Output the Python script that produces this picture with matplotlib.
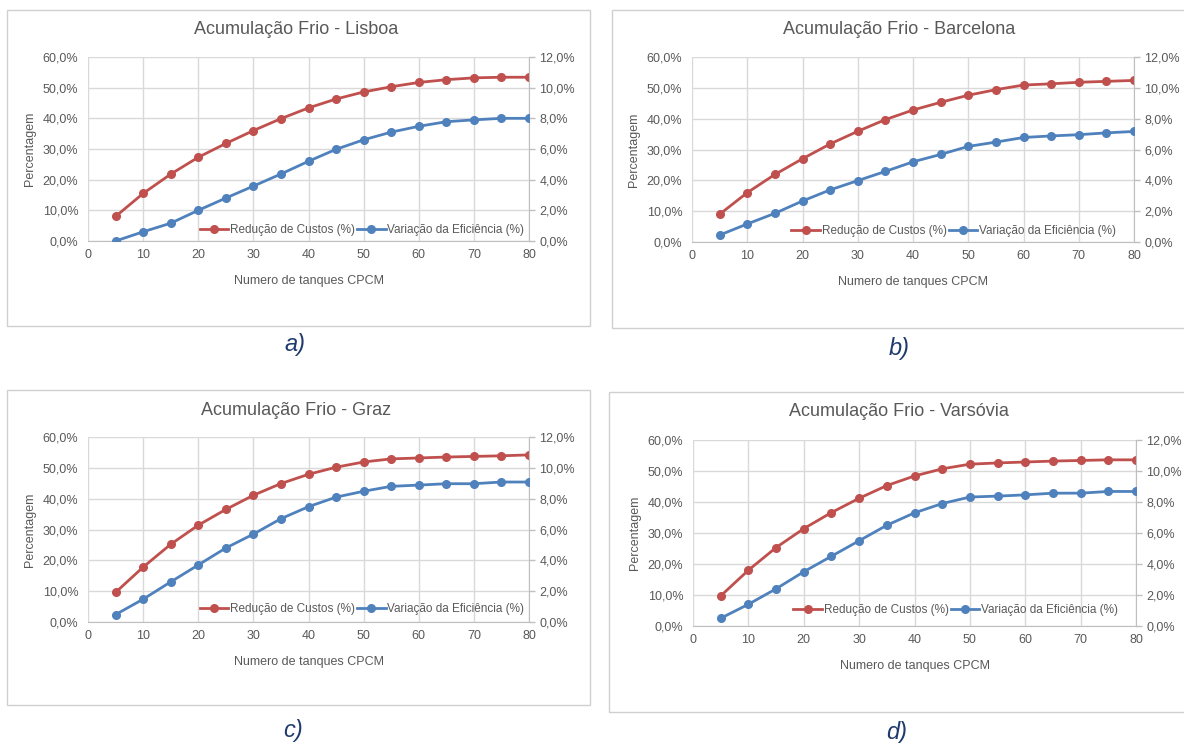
import matplotlib
matplotlib.use("Agg")
import matplotlib.pyplot as plt
from matplotlib.patches import Rectangle
from matplotlib.ticker import FuncFormatter, MultipleLocator

plt.rcParams['font.family'] = ['Liberation Sans', 'DejaVu Sans']

# Number of CPCM tanks
tanques = [5, 10, 15, 20, 25, 30, 35, 40, 45, 50, 55, 60, 65, 70, 75, 80]

# Cost reduction (%) - left axis
custos_lisboa = [8.0, 15.5, 21.8, 27.3, 31.8, 36.0, 39.9, 43.4, 46.3, 48.6, 50.3, 51.7, 52.6, 53.2, 53.4, 53.4]
custos_barcelona = [9.0, 16.0, 21.9, 27.0, 31.8, 35.9, 39.7, 42.8, 45.3, 47.6, 49.4, 50.9, 51.3, 51.8, 52.1, 52.4]
custos_graz = [9.6, 17.8, 25.2, 31.4, 36.5, 41.1, 44.9, 47.9, 50.2, 51.9, 52.9, 53.2, 53.5, 53.7, 53.9, 54.2]
custos_varsovia = [9.7, 18.0, 25.3, 31.4, 36.6, 41.2, 45.3, 48.4, 50.7, 52.2, 52.6, 52.9, 53.2, 53.4, 53.6, 53.6]

# Efficiency variation (%) - right axis
eficiencia_lisboa = [0.0, 0.6, 1.16, 2.0, 2.8, 3.58, 4.37, 5.2, 5.98, 6.6, 7.1, 7.48, 7.78, 7.9, 8.0, 8.0]
eficiencia_barcelona = [0.45, 1.17, 1.86, 2.66, 3.38, 3.98, 4.58, 5.2, 5.68, 6.2, 6.48, 6.78, 6.88, 6.96, 7.08, 7.17]
eficiencia_graz = [0.48, 1.48, 2.6, 3.7, 4.8, 5.7, 6.7, 7.48, 8.1, 8.48, 8.8, 8.88, 8.97, 8.97, 9.08, 9.08]
eficiencia_varsovia = [0.5, 1.4, 2.4, 3.5, 4.5, 5.5, 6.5, 7.3, 7.9, 8.32, 8.38, 8.46, 8.57, 8.57, 8.68, 8.68]

cidades = ["Lisboa", "Barcelona", "Graz", "Varsóvia"]
letras = ["a)", "b)", "c)", "d)"]
custos = [custos_lisboa, custos_barcelona, custos_graz, custos_varsovia]
eficiencias = [eficiencia_lisboa, eficiencia_barcelona, eficiencia_graz, eficiencia_varsovia]

RED = '#C0504D'
BLUE = '#4F81BD'
TXT = '#595959'
GRID = '#D9D9D9'
AXIS = '#BFBFBF'
W, H = 1184, 743

fig = plt.figure(figsize=(W / 100, H / 100), dpi=100)
fig.patch.set_facecolor('white')


def fx(px):
    return px / W


def fy(py):
    return 1 - py / H


# panel layout in pixels: frame box, plot area, title and letter positions, legend anchor
paineis = [
    dict(box=(7, 10, 590, 326), plot=(88, 57, 529, 241), titulo=(296, 30), letra=(295, 345), leg=(1.0, 0.0)),
    dict(box=(612, 10, 1195, 328), plot=(692, 57, 1134, 242), titulo=(899, 30), letra=(899, 348), leg=(0.97, 0.0)),
    dict(box=(7, 390, 590, 705), plot=(88, 437, 529, 622), titulo=(296, 411), letra=(293, 730), leg=(1.0, 0.01)),
    dict(box=(609, 392, 1195, 712), plot=(693, 440, 1136, 626), titulo=(899, 412), letra=(897, 732), leg=(0.97, 0.03)),
]

pct = lambda v, pos: f"{v:.1f}%".replace('.', ',')

for i, p in enumerate(paineis):
    bx0, by0, bx1, by1 = p['box']
    fig.patches.append(Rectangle((fx(bx0), fy(by1)), fx(bx1 - bx0), (by1 - by0) / H,
                                 transform=fig.transFigure, fill=False,
                                 edgecolor='#D0D0D0', linewidth=1.0))
    px0, py0, px1, py1 = p['plot']
    ax = fig.add_axes([fx(px0), fy(py1), fx(px1 - px0), (py1 - py0) / H])
    ax2 = ax.twinx()

    l1, = ax.plot(tanques, custos[i], color=RED, marker='o', markersize=5.5,
                  linewidth=2.0, label='Redução de Custos (%)', zorder=3)
    l2, = ax2.plot(tanques, eficiencias[i], color=BLUE, marker='o', markersize=5.5,
                   linewidth=2.0, label='Variação da Eficiência (%)', zorder=3)

    ax.set_xlim(0, 80)
    ax.set_ylim(0, 60)
    ax2.set_ylim(0, 12)
    ax.xaxis.set_major_locator(MultipleLocator(10))
    ax.yaxis.set_major_locator(MultipleLocator(10))
    ax2.yaxis.set_major_locator(MultipleLocator(2))
    ax.yaxis.set_major_formatter(FuncFormatter(pct))
    ax2.yaxis.set_major_formatter(FuncFormatter(pct))
    ax.grid(True, color=GRID, linewidth=1.0)
    ax.set_axisbelow(True)
    for a in (ax, ax2):
        for s in a.spines.values():
            s.set_visible(False)
        a.tick_params(length=0, labelsize=9, labelcolor=TXT)
    ax.spines['bottom'].set_visible(True)
    ax.spines['bottom'].set_color(AXIS)
    ax2.spines['right'].set_visible(True)
    ax2.spines['right'].set_color(AXIS)
    ax.tick_params(axis='x', pad=6)
    ax.tick_params(axis='y', pad=7)
    ax2.tick_params(axis='y', length=4, width=1, color=AXIS, direction='out', pad=3.5)

    ax.set_xlabel('Numero de tanques CPCM', fontsize=9, color=TXT, labelpad=10)
    ax.set_ylabel('Percentagem', fontsize=9, color=TXT, labelpad=5)

    tx, ty = p['titulo']
    fig.text(fx(tx), fy(ty), f'Acumulação Frio - {cidades[i]}', fontsize=13,
             color=TXT, ha='center', va='center')

    ax2.legend(handles=[l1, l2], loc='lower right', bbox_to_anchor=p['leg'],
               ncol=2, frameon=False, fontsize=8.5, labelcolor=TXT,
               handlelength=2.4, columnspacing=0.2, handletextpad=0.15,
               borderaxespad=0.0)

    lx, ly = p['letra']
    fig.text(fx(lx), fy(ly), letras[i], fontsize=17, style='italic',
             color='#1F3B6E', ha='center', va='center')

fig.savefig('out.png', dpi=100, facecolor='white')
